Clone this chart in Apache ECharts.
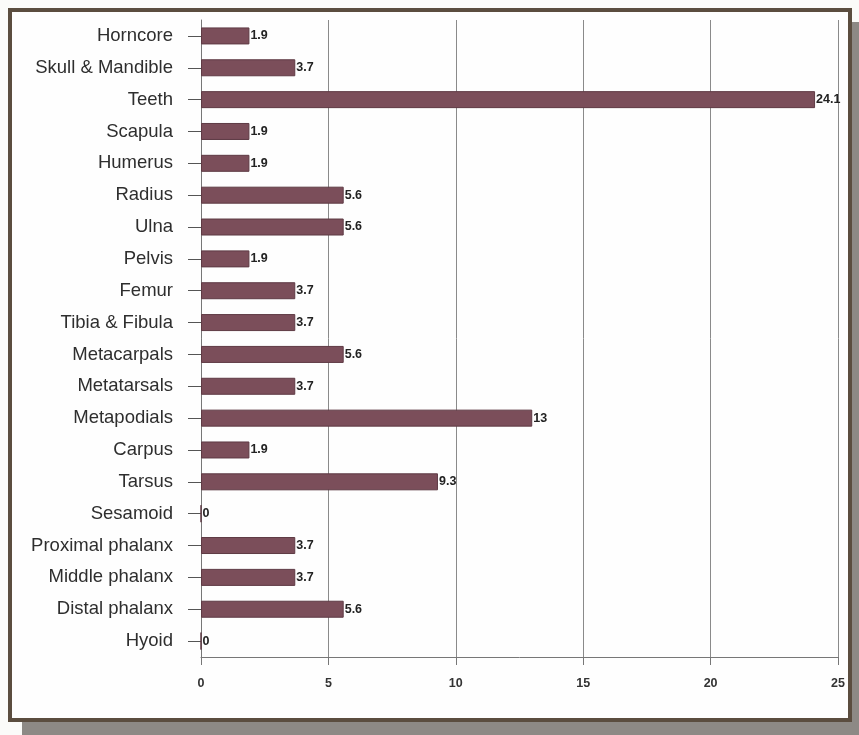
<!DOCTYPE html>
<html><head><meta charset="utf-8">
<script src="https://cdn.jsdelivr.net/npm/echarts@6/dist/echarts.min.js"></script>
<style>html,body{margin:0;padding:0;background:#fbfbf9;}#c{width:859px;height:735px;}</style>
</head><body><div id="c"></div>
<script>
const categories = ["Horncore","Skull & Mandible","Teeth","Scapula","Humerus","Radius","Ulna","Pelvis","Femur","Tibia & Fibula","Metacarpals","Metatarsals","Metapodials","Carpus","Tarsus","Sesamoid","Proximal phalanx","Middle phalanx","Distal phalanx","Hyoid"];
const values = [1.9,3.7,24.1,1.9,1.9,5.6,5.6,1.9,3.7,3.7,5.6,3.7,13,1.9,9.3,0,3.7,3.7,5.6,0];
const xTicks = [0,5,10,15,20,25];

const chart = echarts.init(document.getElementById('c'), null, {renderer:'canvas'});
chart.setOption({
  backgroundColor: '#fbfbf9',
  animation: false,
  graphic: [
    {type:'rect', z:-10, shape:{x:22,y:22,width:837,height:713}, style:{fill:'#8d8985'}},
    {type:'rect', z:-9, shape:{x:10,y:10,width:840,height:710}, style:{fill:'#fefefe', stroke:'#5b4d3f', lineWidth:4}}
  ],
  grid: {left:201, right:21, top:20, bottom:78, containLabel:false},
  xAxis: {
    type:'value', min:xTicks[0], max:xTicks[xTicks.length-1], interval:5,
    axisLine:{show:true, lineStyle:{color:'#777', width:1}},
    axisTick:{show:true, length:8, lineStyle:{color:'#777'}},
    splitLine:{show:true, lineStyle:{color:'#8a8a8a', width:1}},
    axisLabel:{margin:20, color:'#333', fontSize:12.5, fontWeight:'bold', fontFamily:'Liberation Sans'}
  },
  yAxis: {
    type:'category', inverse:true, data:categories,
    axisLine:{show:true, lineStyle:{color:'#777', width:1}},
    axisTick:{show:true, length:13, alignWithLabel:true, lineStyle:{color:'#555'}},
    axisLabel:{margin:28, color:'#2e2e2e', fontSize:18.5, fontFamily:'Liberation Sans'}
  },
  series: [{
    type:'bar', data:values, barWidth:17,
    itemStyle:{color:'#7b4e5a', borderColor:'#5e3a44', borderWidth:1},
    label:{show:true, position:'right', distance:1, color:'#222', fontSize:12.5, fontWeight:'bold', fontFamily:'Liberation Sans'}
  }]
});
</script></body></html>
